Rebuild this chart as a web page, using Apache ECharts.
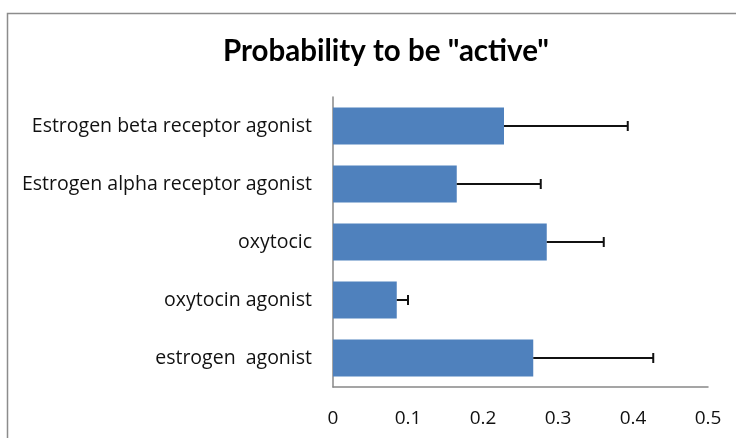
<!DOCTYPE html>
<html>
<head>
<meta charset="utf-8">
<script src="https://cdn.jsdelivr.net/npm/echarts@6/dist/echarts.min.js"></script>
<style>
  html, body { margin: 0; padding: 0; background: #fff; }
  #main { width: 736px; height: 438px; }
</style>
</head>
<body>
<div id="main"></div>
<script>
// categories bottom -> top (category axis on y starts at bottom)
var categories = ['estrogen  agonist', 'oxytocin agonist', 'oxytocic', 'Estrogen alpha receptor agonist', 'Estrogen beta receptor agonist'];
var probability = [0.267, 0.085, 0.285, 0.165, 0.228];
var errorTop = [0.427, 0.100, 0.361, 0.277, 0.393];
var xTicks = [0, 0.1, 0.2, 0.3, 0.4, 0.5];

var chart = echarts.init(document.getElementById('main'));

var errData = categories.map(function (c, i) {
    return [i, probability[i], errorTop[i]];
});

chart.setOption({
    animation: false,
    title: {
        text: 'Probability to be "active"',
        left: 381,
        top: 31,
        textAlign: 'center',
        textStyle: {
            fontFamily: 'Lato',
            fontWeight: 'bold',
            fontSize: 29.5,
            color: '#000'
        }
    },
    graphic: [{
        type: 'rect',
        shape: { x: 7.5, y: 13.5, width: 740, height: 440 },
        style: { fill: 'none', stroke: '#8c8c8c', lineWidth: 1.5 },
        silent: true
    }],
    grid: {
        left: 333,
        right: 28,
        top: 97,
        bottom: 51
    },
    xAxis: {
        type: 'value',
        min: 0,
        max: 0.5,
        interval: 0.1,
        axisLine: { show: true, lineStyle: { color: '#888', width: 1.5 } },
        axisTick: { show: false },
        splitLine: { show: false },
        axisLabel: {
            margin: 22,
            fontFamily: 'Open Sans',
            fontSize: 19,
            color: '#111',
            formatter: function (v) { return String(Math.round(v * 10) / 10); }
        }
    },
    yAxis: {
        type: 'category',
        data: categories,
        axisLine: { show: true, lineStyle: { color: '#888', width: 1.5 } },
        axisTick: { show: false },
        axisLabel: {
            margin: 21,
            fontFamily: 'Open Sans',
            fontSize: 19.5,
            color: '#111'
        }
    },
    series: [{
        type: 'bar',
        data: probability,
        barWidth: '64%',
        itemStyle: { color: '#4f81bd' }
    }, {
        type: 'custom',
        data: errData,
        z: 10,
        renderItem: function (params, api) {
            var idx = api.value(0);
            var start = api.coord([api.value(1), idx]);
            var end = api.coord([api.value(2), idx]);
            var cap = 5;
            return {
                type: 'group',
                children: [{
                    type: 'line',
                    shape: { x1: start[0], y1: start[1], x2: end[0], y2: end[1] },
                    style: { stroke: '#111', lineWidth: 2 }
                }, {
                    type: 'line',
                    shape: { x1: end[0], y1: end[1] - cap, x2: end[0], y2: end[1] + cap },
                    style: { stroke: '#111', lineWidth: 2 }
                }]
            };
        }
    }]
});
</script>
</body>
</html>
